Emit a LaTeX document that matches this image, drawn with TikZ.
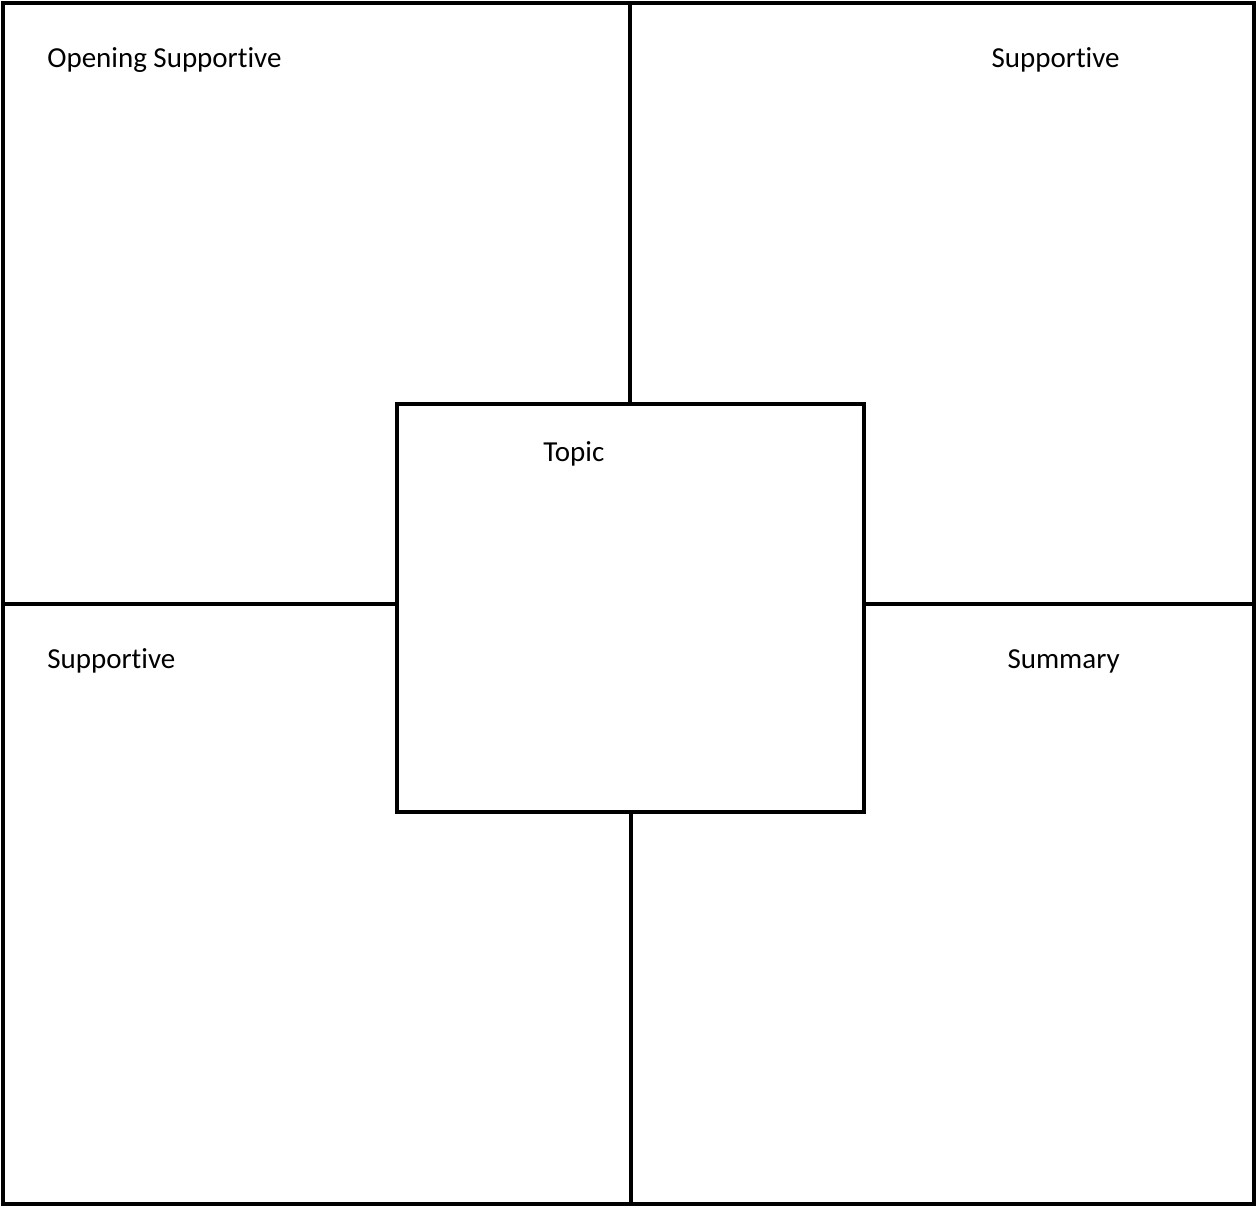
\documentclass[tikz,border=0pt]{standalone}
\usepackage{fontspec}
\setmainfont[Ligatures=NoCommon]{Carlito}

\begin{document}
\begin{tikzpicture}[x=0.02cm,y=-0.02cm,
    frame/.style={line width=2.6pt,line cap=rect},
    label/.style={inner sep=0pt,font=\fontsize{16.5}{20}\selectfont}]
    \useasboundingbox (0,0) rectangle (1257,1207);
    % outer square
    \draw[frame] (3,3) rectangle (1254,1204);
    % topic box in the middle
    \coordinate (tl) at (397,404);
    \coordinate (br) at (864,812);
    \draw[frame] (tl) rectangle (br);
    % dividing lines
    \coordinate (topA) at (630,3);
    \coordinate (topB) at (630,404);
    \coordinate (botA) at (631,812);
    \coordinate (botB) at (631,1204);
    \coordinate (lefA) at (3,604);
    \coordinate (lefB) at (397,604);
    \coordinate (rigA) at (864,604);
    \coordinate (rigB) at (1254,604);
    \draw[frame] (topA) -- (topB);
    \draw[frame] (botA) -- (botB);
    \draw[frame] (lefA) -- (lefB);
    \draw[frame] (rigA) -- (rigB);
    % labels
    \node[label,anchor=base west] (open) at (47,67) {Opening Supportive};
    \node[label,anchor=base east] (supR) at (1120,67) {Supportive};
    \node[label,anchor=base west] (topic) at (543,461) {Topic};
    \node[label,anchor=base west] (supL) at (47,668) {Supportive};
    \node[label,anchor=base east] (summ) at (1120,668) {Summary};
\end{tikzpicture}
\end{document}
